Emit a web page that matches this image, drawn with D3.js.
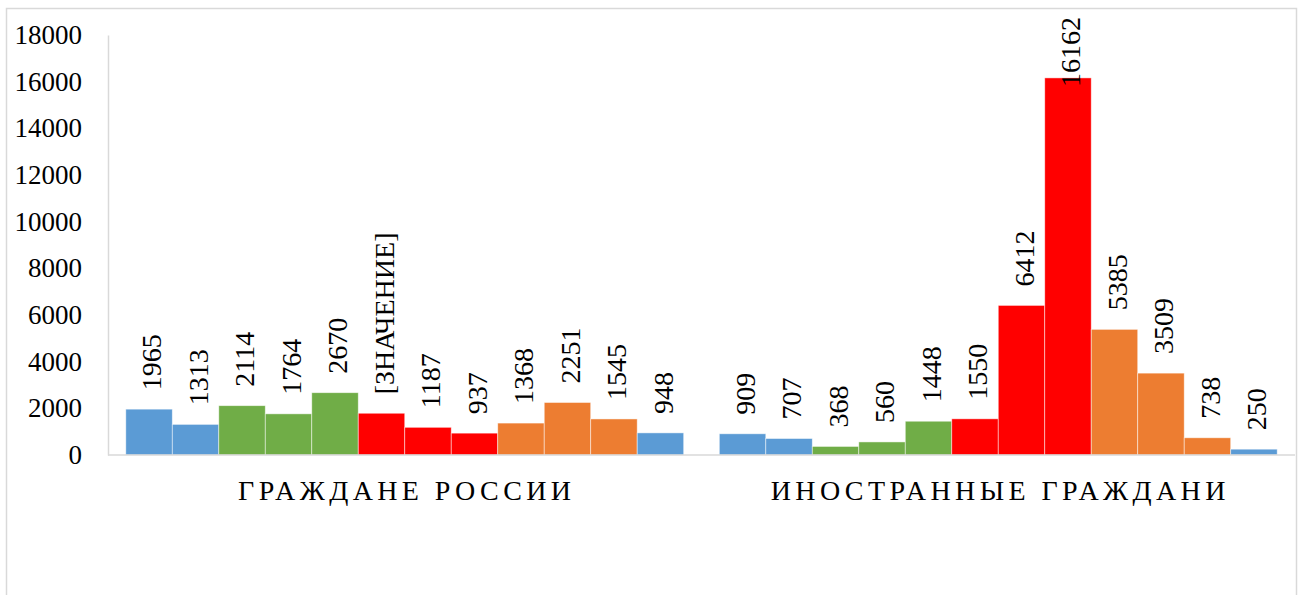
<!DOCTYPE html>
<html>
<head>
<meta charset="utf-8">
<script src="https://cdn.jsdelivr.net/npm/d3@7"></script>
<style>
	body { margin: 0; background: #fff; }
	svg { font-family: "Liberation Serif", "Times New Roman", serif; }
</style>
</head>
<body>
<svg width="1302" height="595"></svg>
<script>
// data
var groups = ["ГРАЖДАНЕ РОССИИ", "ИНОСТРАННЫЕ ГРАЖДАНИ"];
var months = ["янв", "фев", "мар", "апр", "май", "июн", "июл", "авг", "сен", "окт", "ноя", "дек"];
var russians = [1965, 1313, 2114, 1764, 2670, 1790, 1187, 937, 1368, 2251, 1545, 948];
var foreigners = [909, 707, 368, 560, 1448, 1550, 6412, 16162, 5385, 3509, 738, 250];
var russianLabels = ["1965", "1313", "2114", "1764", "2670", "[ЗНАЧЕНИЕ]", "1187", "937", "1368", "2251", "1545", "948"];
var foreignLabels = ["909", "707", "368", "560", "1448", "1550", "6412", "16162", "5385", "3509", "738", "250"];
var seasonColors = ["#5B9BD5", "#5B9BD5", "#70AD47", "#70AD47", "#70AD47", "#FF0000", "#FF0000", "#FF0000", "#ED7D31", "#ED7D31", "#ED7D31", "#5B9BD5"];
var yTicks = [0, 2000, 4000, 6000, 8000, 10000, 12000, 14000, 16000, 18000];

var svg = d3.select("svg");

// outer frame
svg.append("rect")
	.attr("x", 6.5).attr("y", 8.5)
	.attr("width", 1290).attr("height", 600)
	.attr("fill", "none")
	.attr("stroke", "#D9D9D9")
	.attr("stroke-width", 1.5);

var margin = { top: 35, left: 108, right: 1295, bottom: 455 };

var x0 = d3.scaleBand().domain(groups).range([margin.left, margin.right]).paddingInner(0.06).paddingOuter(0.03);
var x1 = d3.scaleBand().domain(months).range([0, x0.bandwidth()]);
var y = d3.scaleLinear().domain([0, 18000]).range([margin.bottom, margin.top]);

var yaxis = d3.axisLeft(y).tickValues(yTicks).tickSize(0).tickPadding(26).tickFormat(d3.format("d"));
var gy = svg.append("g")
	.attr("transform", "translate(" + margin.left + ",0)")
	.call(yaxis);
gy.select(".domain").attr("stroke", "#D9D9D9").attr("stroke-width", 1.5);
gy.selectAll("text").attr("font-size", 27).attr("fill", "#000").attr("font-family", "Liberation Serif");

var series = [
	{ name: groups[0], values: russians, labels: russianLabels },
	{ name: groups[1], values: foreigners, labels: foreignLabels }
];

series.forEach(function(s) {
	var g = svg.append("g").attr("transform", "translate(" + x0(s.name) + ",0)");
	g.selectAll("rect")
		.data(s.values)
		.enter().append("rect")
		.attr("x", function(d, i) { return x1(months[i]); })
		.attr("y", function(d) { return y(d); })
		.attr("width", x1.bandwidth())
		.attr("height", function(d) { return y(0) - y(d); })
		.attr("fill", function(d, i) { return seasonColors[i]; })
		.attr("stroke", "rgba(255,255,255,0.6)")
		.attr("stroke-width", 0.8);

	g.selectAll("text.lbl")
		.data(s.values)
		.enter().append("text")
		.attr("class", "lbl")
		.attr("dy", "0.36em")
		.attr("font-size", 28)
		.attr("fill", "#000")
		.text(function(d, i) { return s.labels[i]; })
		.attr("transform", function(d, i) {
			// keep the label inside the chart: push it down if it would run off the top
			var len = this.getComputedTextLength();
			var cx = x1(months[i]) + x1.bandwidth() / 2 + 2;
			var cy = Math.max(y(d) - 19, 17 + len);
			return "translate(" + cx + "," + cy + ") rotate(-90)";
		});
});

// x axis line
svg.append("line")
	.attr("x1", margin.left).attr("x2", margin.right)
	.attr("y1", y(0)).attr("y2", y(0))
	.attr("stroke", "#D9D9D9").attr("stroke-width", 1.5);

// category labels
svg.selectAll("text.cat")
	.data(groups)
	.enter().append("text")
	.attr("class", "cat")
	.attr("x", function(d) { return x0(d) + x0.bandwidth() / 2 + 2; })
	.attr("y", 500)
	.attr("text-anchor", "middle")
	.attr("font-size", 28)
	.attr("letter-spacing", 4.4)
	.attr("fill", "#000")
	.text(function(d) { return d; });
</script>
</body>
</html>
